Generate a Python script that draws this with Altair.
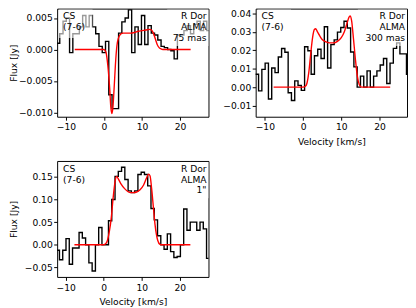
import altair as alt
import pandas as pd

# channel centres (km/s)
vel = [-12.93, -12.07, -11.21, -10.35, -9.49, -8.63, -7.77, -6.91, -6.05, -5.19,
       -4.33, -3.47, -2.61, -1.75, -0.89, -0.03, 0.83, 1.69, 2.55, 3.41,
       4.27, 5.13, 5.99, 6.85, 7.71, 8.57, 9.43, 10.29, 11.15, 12.01,
       12.87, 13.73, 14.59, 15.45, 16.31, 17.17, 18.03, 18.89, 19.75, 20.61,
       21.47, 22.33, 23.19, 24.05, 24.91, 25.77, 26.63, 27.49, 28.35]

flux_75mas = [-0.0015, 0.0010, 0.0025, 0.0045, 0.0050, -0.0005, 0.0025, 0.0025, 0.0036, 0.0054,
              0.0036, 0.0054, 0.0036, 0.0025, 0.0005, -0.0005, 0.0013, -0.0072, -0.0094, -0.0094,
              0.0026, 0.0044, 0.0050, 0.0063, -0.0005, 0.0036, 0.0008, 0.0054, 0.0008, 0.0038,
              0.0026, 0.0023, 0.0015, 0.0005, 0.0003, 0.0000, -0.0002, -0.0015, 0.0023, 0.0023,
              0.0030, 0.0038, 0.0025, 0.0040, 0.0045, 0.0030, 0.0045, 0.0030, 0.0030]

flux_300mas = [0.007, 0.007, -0.002, 0.0096, 0.013, -0.0064, 0.0104, 0.0079, 0.0163, 0.0209,
               0.0189, -0.003, -0.0072, 0.0034, 0.001, -0.0017, 0.0219, 0.0197, 0.007, 0.017,
               0.0205, 0.0155, 0.0327, 0.0104, 0.023, 0.0256, 0.0298, 0.0323, 0.0357, 0.032,
               0.019, 0.011, 0.0, 0.006, 0.0, 0.0088, 0.0, 0.006, 0.0088, 0.012,
               0.0155, 0.002, 0.013, 0.021, 0.024, 0.018, 0.018, 0.007, 0.007]

flux_1arcsec = [-0.0115, -0.012, -0.033, -0.012, 0.0137, -0.043, -0.007, -0.007, 0.027, 0.015,
                0.0, -0.04, -0.058, 0.0, 0.038, 0.0, 0.0, 0.053, 0.10, 0.151,
                0.162, 0.171, 0.144, 0.119, 0.115, 0.119, 0.155, 0.16, 0.155, 0.13,
                0.08, 0.055, 0.02, 0.0, -0.01, 0.024, -0.015, -0.028, -0.026, 0.0,
                0.079, 0.032, 0.05, 0.05, 0.032, 0.05, 0.035, -0.03, -0.03]

model_vel_75mas = [-7.7, -2.0, 0.0, 0.5, 1.0, 1.5, 1.8, 2.05, 2.3, 2.7, 3.0, 3.4, 3.8, 4.3, 5.0,
                   6.0, 7.0, 8.0, 9.0, 10.0, 11.0, 12.0, 12.5, 13.0, 13.5, 14.0, 14.5, 15.0, 15.5, 22.8]
model_flux_75mas = [0.0, 0.0, 0.0, -0.0004, -0.0025, -0.0062, -0.0092, -0.0102, -0.0095, -0.0058,
                    -0.0025, 0.0006, 0.0018, 0.0024, 0.0026, 0.0026, 0.0026, 0.0027, 0.0029, 0.0030,
                    0.0031, 0.0032, 0.0031, 0.0026, 0.0017, 0.0008, 0.0003, 0.0001, 0.0, 0.0]

model_vel_300mas = [-7.7, 0.0, 0.6, 1.0, 1.5, 2.0, 2.5, 3.0, 3.3, 3.7, 4.3, 5.0, 6.0, 7.0, 8.0,
                    9.0, 10.0, 10.8, 11.5, 12.0, 12.3, 12.7, 13.2, 13.7, 14.2, 14.7, 15.3, 22.8]
model_flux_300mas = [0.0, 0.0, 0.0005, 0.002, 0.008, 0.018, 0.027, 0.0313, 0.0316, 0.0302,
                     0.028, 0.0258, 0.0245, 0.024, 0.024, 0.0248, 0.0268, 0.030, 0.0345, 0.0378,
                     0.0385, 0.036, 0.026, 0.015, 0.006, 0.0015, 0.0, 0.0]

model_vel_1arcsec = [-7.7, 0.0, 0.5, 1.0, 1.5, 2.0, 2.5, 3.0, 3.4, 3.8, 4.5, 5.5, 6.5, 7.5, 8.5,
                     9.5, 10.5, 11.2, 11.8, 12.2, 12.6, 13.1, 13.5, 14.2, 14.8, 15.3, 22.8]
model_flux_1arcsec = [0.0, 0.0, 0.002, 0.01, 0.03, 0.06, 0.105, 0.14, 0.151, 0.146,
                      0.135, 0.124, 0.117, 0.115, 0.116, 0.121, 0.132, 0.146, 0.156, 0.152,
                      0.125, 0.08, 0.045, 0.01, 0.001, 0.0, 0.0]

x_ticks = [-10, 0, 10, 20]
y_ticks_75mas = [-0.010, -0.005, 0.0, 0.005]
y_ticks_300mas = [-0.01, 0.0, 0.01, 0.02, 0.03, 0.04]
y_ticks_1arcsec = [-0.05, 0.0, 0.05, 0.10, 0.15]

FONT = "DejaVu Sans"
FS = 9.3
W = 154


def panel(flux, mvel, mflux, xdom, ydom, yticks, yfmt, xtitle, ytitle, rlabel, h, lbox, rbox):
    xs = alt.Scale(domain=xdom, nice=False, zero=False)
    ys = alt.Scale(domain=ydom, nice=False, zero=False)
    xaxis = alt.Axis(values=x_ticks, format="d", title=xtitle, labelOverlap=False, labelPadding=3,
                     titlePadding=5)
    if ytitle is not None:
        yaxis = alt.Axis(values=yticks, format=yfmt, title=ytitle, labelOverlap=False, titleX=-39.7,
                         labelPadding=1.5)
    else:
        yaxis = alt.Axis(values=yticks, format=yfmt, title=None, labelOverlap=False, labelPadding=1.5)
    d = pd.DataFrame({"v": vel, "f": flux})
    m = pd.DataFrame({"v": mvel, "f": mflux})
    one = pd.DataFrame({"k": [0]})
    data_line = alt.Chart(d).mark_line(interpolate="step", color="black", strokeWidth=1.4, clip=True).encode(
        x=alt.X("v:Q", scale=xs, axis=xaxis), y=alt.Y("f:Q", scale=ys, axis=yaxis))
    model_line = alt.Chart(m).mark_line(interpolate="monotone", color="#ff0000", strokeWidth=1.4, clip=True).encode(
        x=alt.X("v:Q", axis=xaxis), y=alt.Y("f:Q", axis=yaxis))
    box_l = alt.Chart(one).mark_rect(color="white", opacity=0.6).encode(
        x=alt.value(lbox[0]), x2=alt.value(lbox[1]), y=alt.value(lbox[2]), y2=alt.value(lbox[3]))
    box_r = alt.Chart(one).mark_rect(color="white", opacity=0.6).encode(
        x=alt.value(rbox[0]), x2=alt.value(rbox[1]), y=alt.value(rbox[2]), y2=alt.value(rbox[3]))
    txt_l = alt.Chart(one).mark_text(text="CS\n(7-6)", lineBreak="\n", align="left", baseline="top",
                                     font=FONT, fontSize=FS, lineHeight=11, color="black").encode(
        x=alt.value(6), y=alt.value(4))
    txt_r = alt.Chart(one).mark_text(text=rlabel, lineBreak="\n", align="right", baseline="top",
                                     font=FONT, fontSize=FS, lineHeight=11, color="black").encode(
        x=alt.value(W - 2), y=alt.value(4))
    return alt.layer(data_line, model_line, box_l, box_r, txt_l, txt_r).properties(width=W, height=h)


p1 = panel(flux_75mas, model_vel_75mas, model_flux_75mas, [-12.33, 27.5], [-0.0107, 0.0065],
           y_ticks_75mas, ".3f", None, "Flux [Jy]", "R Dor\nALMA\n75 mas", 110,
           (2, 36, 1, 30), (W - 42, W, 1, 38))
p2 = panel(flux_300mas, model_vel_300mas, model_flux_300mas, [-12.4, 27.2], [-0.016, 0.0425],
           y_ticks_300mas, ".2f", "Velocity [km/s]", None, "R Dor\nALMA\n300 mas", 110,
           (2, 36, 1, 30), (W - 50, W, 1, 38))
p3 = panel(flux_1arcsec, model_vel_1arcsec, model_flux_1arcsec, [-12.25, 27.57], [-0.071, 0.185],
           y_ticks_1arcsec, ".2f", "Velocity [km/s]", "Flux [Jy]", 'R Dor\nALMA\n1"', 118,
           (2, 36, 1, 30), (W - 36, W, 1, 38))

chart = alt.concat(p1, p2, p3, columns=2, spacing={"row": 45, "column": 48}, bounds="flush").properties(
    padding={"left": 0, "top": -3, "right": 0, "bottom": 0}
).configure_view(stroke="black", strokeWidth=1).configure_axis(
    labelFont=FONT, labelFontSize=FS, labelColor="black", titleFont=FONT, titleFontSize=FS,
    titleFontWeight="normal", titleColor="black", tickColor="black", tickSize=3.5, tickWidth=1,
    grid=False, domain=False, labelPadding=2, titlePadding=4, labelOverlap=False
)

chart.save("out.html", embed_options={"renderer": "svg", "actions": False})
